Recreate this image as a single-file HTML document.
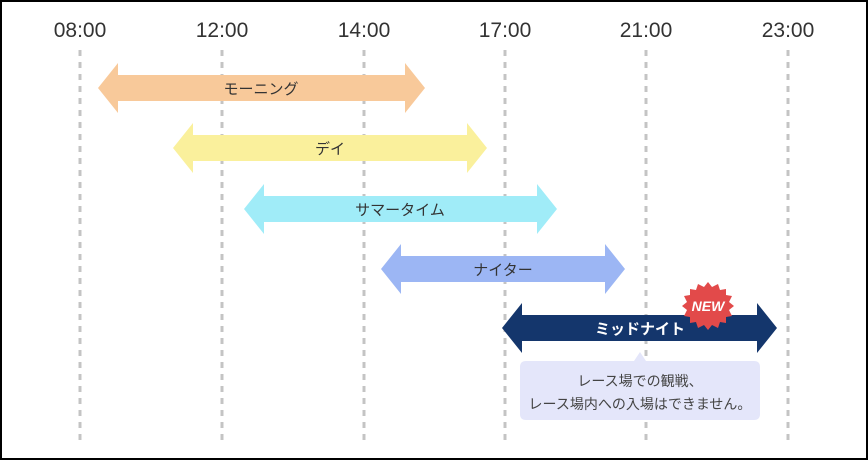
<!DOCTYPE html>
<html><head><meta charset="utf-8"><style>
body{margin:0;width:868px;height:460px;overflow:hidden;background:#fff}
</style></head><body>
<svg width="868" height="460" xmlns="http://www.w3.org/2000/svg" font-family="'Liberation Sans','Noto Sans CJK JP',sans-serif">
<rect x="1" y="1" width="866" height="458" fill="#fff" stroke="#000" stroke-width="2"/>
<g fill="#333" font-size="21" text-anchor="middle">
<text x="80" y="37">08:00</text><text x="222" y="37">12:00</text><text x="364" y="37">14:00</text>
<text x="505" y="37">17:00</text><text x="646" y="37">21:00</text><text x="788" y="37">23:00</text>
</g>
<g stroke="#c4c4c4" stroke-width="3" stroke-dasharray="6,6">
<line x1="80" y1="50" x2="80" y2="442"/><line x1="222" y1="50" x2="222" y2="442"/>
<line x1="364" y1="50" x2="364" y2="442"/><line x1="505" y1="50" x2="505" y2="442"/>
<line x1="646" y1="50" x2="646" y2="442"/><line x1="788" y1="50" x2="788" y2="442"/>
</g>
<g>
<polygon fill="#f8c99a" points="98,88 118,63 118,75 405,75 405,63 425,88 405,113 405,101 118,101 118,113"/>
<polygon fill="#faf09c" points="173,148 193,123 193,135 467,135 467,123 487,148 467,173 467,161 193,161 193,173"/>
<polygon fill="#a0ecf8" points="244,209 264,184 264,196 537,196 537,184 557,209 537,234 537,222 264,222 264,234"/>
<polygon fill="#9cb6f4" points="381,269 401,244 401,256 605,256 605,244 625,269 605,294 605,282 401,282 401,294"/>
<polygon fill="#14366c" points="502,328 522,303 522,315 757,315 757,303 777,328 757,353 757,341 522,341 522,353"/>
</g>
<g font-size="15" text-anchor="middle" fill="#333">
<text x="261" y="94">モーニング</text>
<text x="330" y="154">デイ</text>
<text x="400" y="215">サマータイム</text>
<text x="503" y="275">ナイター</text>
<text x="640" y="334" fill="#fff" font-weight="bold">ミッドナイト</text>
</g>
<polygon fill="#e24a4a" points="708,282 712,287 718,284 720,290 726,289 726,295 732,296 729,302 734,306 729,310 732,316 726,317 726,323 720,322 718,328 712,325 708,330 704,325 698,328 696,322 690,323 690,317 684,316 687,310 682,306 687,302 684,296 690,295 690,289 696,290 698,284 704,287"/>
<text x="708" y="311" fill="#fff" font-size="14" font-weight="bold" font-style="italic" text-anchor="middle">NEW</text>
<path fill="#e4e6fa" d="M526,361 H634 L640,352 L646,361 H754 Q760,361 760,367 V414 Q760,420 754,420 H526 Q520,420 520,414 V367 Q520,361 526,361Z"/>
<g font-size="14" fill="#444" text-anchor="middle">
<text x="640" y="386">レース場での観戦、</text>
<text x="640" y="409">レース場内への入場はできません。</text>
</g>
</svg>
</body></html>
